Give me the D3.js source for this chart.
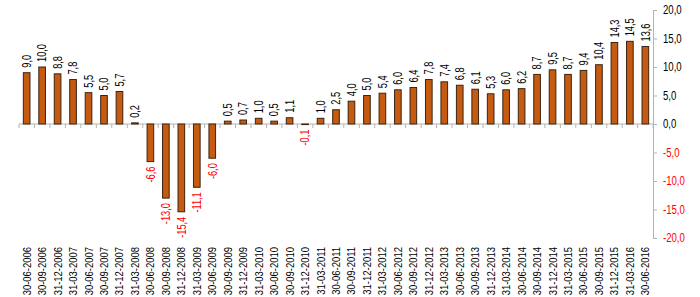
<!DOCTYPE html>
<html>
<head>
<meta charset="utf-8">
<script src="https://cdn.jsdelivr.net/npm/d3@7"></script>
<style>
  body { margin: 0; background: #fff; }
  svg { font-family: "Liberation Sans", Arial, sans-serif; }
</style>
</head>
<body>
<div id="chart"></div>
<script>
// chart data
const DATES = ["30-06-2006", "30-09-2006", "31-12-2006", "31-03-2007", "30-06-2007", "30-09-2007",
  "31-12-2007", "31-03-2008", "30-06-2008", "30-09-2008", "31-12-2008", "31-03-2009", "30-06-2009",
  "30-09-2009", "31-12-2009", "31-03-2010", "30-06-2010", "30-09-2010", "31-12-2010", "31-03-2011",
  "30-06-2011", "30-09-2011", "31-12-2011", "31-03-2012", "30-06-2012", "30-09-2012", "31-12-2012",
  "31-03-2013", "30-06-2013", "30-09-2013", "31-12-2013", "31-03-2014", "30-06-2014", "30-09-2014",
  "31-12-2014", "31-03-2015", "30-06-2015", "30-09-2015", "31-12-2015", "31-03-2016", "30-06-2016"];
const VALUES = [9.0, 10.0, 8.8, 7.8, 5.5, 5.0, 5.7, 0.2, -6.6, -13.0, -15.4, -11.1, -6.0,
  0.5, 0.7, 1.0, 0.5, 1.1, -0.1, 1.0, 2.5, 4.0, 5.0, 5.4, 6.0, 6.4, 7.8,
  7.4, 6.8, 6.1, 5.3, 6.0, 6.2, 8.7, 9.5, 8.7, 9.4, 10.4, 14.3, 14.5, 13.6];
const Y_TICKS = [20, 15, 10, 5, 0, -5, -10, -15, -20];

const WIDTH = 700, HEIGHT = 297;
const PLOT = {left: 19, right: 653, top: 10, bottom: 238};

const fmt = v => d3.format(".1f")(v).replace(".", ",").replace("−", "-");

const svg = d3.select("#chart").append("svg")
  .attr("width", WIDTH)
  .attr("height", HEIGHT);

const x = d3.scaleBand()
  .domain(DATES)
  .range([PLOT.left, PLOT.right])
  .paddingInner(0.57)
  .paddingOuter(0.28);

const y = d3.scaleLinear()
  .domain([-20, 20])
  .range([PLOT.bottom, PLOT.top]);

// right axis, labels a bit narrow like the original
const yAxis = svg.append("g")
  .attr("transform", "translate(" + PLOT.right + ",0)")
  .call(d3.axisRight(y).tickValues(Y_TICKS).tickSize(4).tickPadding(0).tickFormat(fmt));
yAxis.selectAll("line, path").attr("stroke", "#b3b3b3");
yAxis.selectAll("text")
  .attr("x", null)
  .attr("transform", "translate(10,0) scale(0.8,1)")
  .attr("font-size", "12px")
  .attr("font-family", "Liberation Sans, Arial, sans-serif")
  .attr("fill", d => d < 0 ? "#ff0000" : "#000");

// zero line with category ticks
const y0 = y(0);
svg.append("line")
  .attr("x1", PLOT.left).attr("x2", PLOT.right)
  .attr("y1", y0).attr("y2", y0)
  .attr("stroke", "#b3b3b3");
const step = x.step();
svg.selectAll(".cat-tick")
  .data(d3.range(DATES.length + 1))
  .enter()
  .append("line")
    .attr("x1", i => PLOT.left + i * step)
    .attr("x2", i => PLOT.left + i * step)
    .attr("y1", y0).attr("y2", y0 + 4)
    .attr("stroke", "#b3b3b3");

// bars
svg.selectAll(".bar")
  .data(VALUES)
  .enter()
  .append("rect")
    .attr("x", (d, i) => x(DATES[i]))
    .attr("y", d => y(Math.max(0, d)))
    .attr("width", x.bandwidth())
    .attr("height", d => Math.abs(y(d) - y0))
    .attr("fill", "#c55a11")
    .attr("stroke", "#3b2412")
    .attr("stroke-width", 1);

// value labels
svg.selectAll(".val")
  .data(VALUES)
  .enter()
  .append("text")
    .attr("transform", (d, i) => {
      const cx = x(DATES[i]) + x.bandwidth() / 2 + 4.3;
      const cy = d >= 0 ? y(d) - 5 : y(d) + 5;
      return "translate(" + cx + "," + cy + ") rotate(-90) scale(0.77,1)";
    })
    .attr("text-anchor", d => d >= 0 ? "start" : "end")
    .attr("font-size", "12px")
    .attr("fill", d => d < 0 ? "#ff0000" : "#000")
    .text(fmt);

// category labels
svg.selectAll(".cat")
  .data(DATES)
  .enter()
  .append("text")
    .attr("transform", d => "translate(" + (x(d) + x.bandwidth() / 2 + 4) + ",247) rotate(-90) scale(0.86,1)")
    .attr("text-anchor", "end")
    .attr("font-size", "11px")
    .attr("fill", "#000")
    .text(d => d);
</script>
</body>
</html>
